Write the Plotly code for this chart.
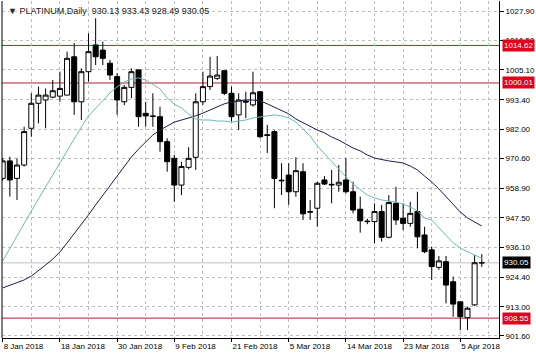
import plotly.graph_objects as go

# ---- data ----
bar_index = list(range(68))
opens = [962.9, 969.7, 962.9, 968.1, 982.4, 992.1, 993.4, 994.5, 994.9, 995.3,
         1010.2, 992.7, 1004.4, 1014.8, 1012.8, 1007.7, 1002.5, 992.7, 998.3, 1005.1,
         988.2, 987.2, 986.9, 977.2, 970.7, 960.3, 967.2, 971.1, 992.7, 998.6,
         1001.8, 1004.8, 996.0, 987.6, 993.0, 991.5, 996.6, 979.9, 981.1, 962.2,
         964.2, 957.7, 965.5, 950.0, 951.3, 962.3, 960.6, 960.3, 962.3, 957.7,
         950.9, 946.3, 946.1, 950.0, 940.0, 953.2, 947.4, 945.4, 950.0, 940.9,
         935.1, 928.3, 930.5, 922.7, 914.9, 908.7, 913.7, 930.13]
highs = [970.8, 971.3, 970.7, 983.0, 996.0, 998.6, 997.9, 1001.2, 1004.4, 1012.2,
         1015.5, 1005.7, 1019.3, 1025.2, 1016.1, 1009.0, 1003.8, 999.2, 1005.7, 1005.4,
         992.7, 996.0, 990.8, 978.5, 972.0, 969.4, 975.0, 996.0, 1004.4, 1010.2,
         1010.5, 1004.8, 998.6, 996.0, 996.6, 1004.4, 996.6, 983.7, 981.7, 968.8,
         968.8, 971.1, 968.8, 954.5, 961.6, 963.8, 966.2, 968.1, 970.7, 961.6,
         955.8, 947.2, 953.2, 952.6, 956.4, 959.7, 953.2, 953.8, 957.7, 944.1,
         936.4, 932.7, 932.7, 924.7, 914.9, 913.0, 933.1, 933.43]
lows = [962.0, 955.8, 954.5, 967.5, 979.1, 984.3, 982.4, 994.1, 992.7, 995.3,
        987.6, 985.6, 1000.5, 1007.0, 1007.0, 1001.2, 987.6, 991.4, 994.1, 983.0,
        983.0, 983.0, 973.3, 965.5, 953.8, 956.4, 966.4, 966.2, 991.5, 997.3,
        1001.2, 995.3, 985.0, 981.7, 986.3, 990.8, 978.5, 972.7, 951.3, 956.4,
        952.6, 955.8, 946.7, 946.7, 944.1, 960.3, 953.2, 957.7, 957.1, 949.3,
        941.8, 945.1, 937.7, 938.3, 939.6, 944.8, 942.8, 944.1, 935.7, 933.8,
        923.4, 927.3, 914.3, 909.1, 903.9, 903.9, 913.3, 928.49]
closes = [969.7, 962.3, 968.1, 981.1, 992.1, 995.3, 995.3, 997.0, 997.9, 1009.6,
          992.7, 1004.4, 1012.2, 1010.2, 1009.6, 1003.1, 993.4, 998.3, 1004.4, 986.9,
          987.2, 987.0, 977.2, 969.4, 960.3, 967.5, 970.7, 992.7, 998.6, 1002.7,
          1003.1, 996.0, 986.9, 993.4, 992.6, 996.2, 979.1, 979.6, 962.9, 962.0,
          957.7, 965.9, 949.1, 949.8, 961.0, 960.7, 960.4, 961.4, 957.7, 950.6,
          946.4, 946.1, 950.0, 940.0, 953.5, 946.7, 945.4, 949.3, 940.2, 934.4,
          928.6, 930.8, 921.4, 914.0, 909.1, 912.4, 930.1, 930.05]

ma_fast = [930.8, 935.8, 940.5, 945.6, 950.2, 954.9, 959.6, 964.2, 968.9, 973.9,
           978.6, 982.9, 987.2, 990.3, 993.4, 996.1, 998.5, 1000.4, 1001.6, 1002.0,
           1001.2, 999.6, 997.7, 994.2, 991.8, 990.3, 987.9, 986.0, 985.6, 985.6,
           985.2, 985.2, 984.8, 985.2, 985.6, 986.4, 986.8, 987.2, 987.6, 987.2,
           986.4, 984.8, 982.1, 979.4, 975.5, 972.4, 969.3, 966.2, 963.5, 960.7,
           958.4, 956.4, 955.3, 954.5, 954.1, 953.7, 952.9, 951.8, 950.2, 947.5,
           946.7, 943.6, 940.9, 937.8, 935.8, 934.3, 933.1, 931.9]
ma_slow = [920.3, 921.4, 922.2, 923.4, 924.9, 926.9, 929.2, 931.5, 934.3, 937.8,
           941.3, 944.8, 948.7, 952.6, 956.1, 960.0, 963.8, 967.7, 971.2, 974.3,
           977.1, 979.8, 981.7, 983.3, 984.8, 985.6, 986.4, 987.2, 988.3, 989.5,
           990.7, 991.9, 992.6, 993.0, 993.4, 993.4, 993.0, 991.9, 990.7, 989.5,
           988.0, 986.0, 984.5, 982.9, 981.7, 980.6, 979.0, 977.8, 976.3, 974.7,
           973.6, 972.0, 970.8, 970.1, 969.7, 969.3, 968.9, 967.7, 966.2, 963.8,
           961.5, 958.8, 955.7, 952.6, 949.8, 947.5, 945.9, 944.4]

date_tick_pos = [0, 8, 16, 24, 32, 40, 48, 56, 64]
date_tick_text = ["8 Jan 2018", "18 Jan 2018", "30 Jan 2018", "9 Feb 2018", "21 Feb 2018",
                  "5 Mar 2018", "14 Mar 2018", "23 Mar 2018", "5 Apr 2018"]
minor_grid_pos = [4, 12, 20, 28, 36, 44, 52, 60, 68]
price_ticks = [1027.90, 1016.50, 1005.10, 993.40, 982.00, 970.60, 958.90,
               947.50, 936.10, 924.40, 913.00, 901.60]
red_levels = [1014.62, 1000.01, 908.55]
last_price = 930.05
title_text = "\u25bc PLATINUM,Daily\u00a0\u00a0930.13 933.43 928.49 930.05"

FONT = "Liberation Sans, Arial, sans-serif"
GRID = "#bdbdbd"
RED = "#b3202c"

fig = go.Figure()
fig.add_trace(go.Scatter(x=bar_index, y=ma_slow, mode="lines",
                         line=dict(color="#1e1e4a", width=1), hoverinfo="skip"))
fig.add_trace(go.Scatter(x=bar_index, y=ma_fast, mode="lines",
                         line=dict(color="#72b8b8", width=1), hoverinfo="skip"))
fig.add_trace(go.Candlestick(
    x=bar_index, open=opens, high=highs, low=lows, close=closes,
    increasing=dict(line=dict(color="#000000", width=1), fillcolor="#ffffff"),
    decreasing=dict(line=dict(color="#000000", width=1), fillcolor="#000000"),
    whiskerwidth=0))

shapes = []
for lv in red_levels:
    shapes.append(dict(type="line", xref="paper", x0=0, x1=1, yref="y", y0=lv, y1=lv,
                       line=dict(color=RED, width=1), layer="below"))
shapes.append(dict(type="line", xref="paper", x0=0, x1=1, yref="y", y0=last_price, y1=last_price,
                   line=dict(color="#c0c0c0", width=1), layer="below"))
shapes.append(dict(type="line", xref="paper", x0=0, x1=0, yref="paper", y0=0, y1=1,
                   line=dict(color="#000000", width=1)))

annotations = [dict(xref="paper", yref="paper", x=0, y=1, xanchor="left", yanchor="top",
                    xshift=4, yshift=-3, text=title_text, showarrow=False,
                    font=dict(family=FONT, size=9, color="#222222"))]
for lv in red_levels:
    annotations.append(dict(xref="paper", yref="y", x=1, y=lv, xanchor="left", yanchor="middle",
                            xshift=3, text=f"{lv:.2f}", showarrow=False, bgcolor="#e3001b",
                            borderpad=1, font=dict(family=FONT, size=8, color="#ffffff")))
annotations.append(dict(xref="paper", yref="y", x=1, y=last_price, xanchor="left", yanchor="middle",
                        xshift=3, text=f"{last_price:.2f}", showarrow=False, bgcolor="#000000",
                        borderpad=1, font=dict(family=FONT, size=8, color="#ffffff")))

fig.update_layout(
    width=536, height=357,
    margin=dict(l=2, r=37, t=1, b=19),
    paper_bgcolor="#ffffff", plot_bgcolor="#ffffff",
    showlegend=False,
    boxgap=0.3, boxgroupgap=0,
    font=dict(family=FONT, size=8, color="#000000"),
    shapes=shapes, annotations=annotations,
    xaxis=dict(range=[-0.098, 69.41], rangeslider=dict(visible=False),
               tickmode="array", tickvals=date_tick_pos, ticktext=date_tick_text,
               ticks="outside", ticklen=3, tickcolor="#000000",
               ticklabelposition="outside right",
               showgrid=True, gridcolor=GRID, griddash="3px,3px", gridwidth=1,
               minor=dict(tickvals=minor_grid_pos, showgrid=True, gridcolor=GRID,
                          griddash="3px,3px", ticks=""),
               showline=True, linecolor="#000000", linewidth=1, zeroline=False,
               tickfont=dict(family=FONT, size=8)),
    yaxis=dict(side="right", range=[900.82, 1031.9], tickmode="array",
               tickvals=price_ticks, ticktext=[f"{v:.2f}" for v in price_ticks],
               ticks="outside", ticklen=4, tickcolor="#000000",
               showgrid=True, gridcolor=GRID, griddash="3px,3px", gridwidth=1,
               showline=True, linecolor="#000000", linewidth=1, zeroline=False,
               tickfont=dict(family=FONT, size=8)),
)

fig.write_html(
    "out.html",
    config={"displayModeBar": False},
    post_script="document.body.style.margin='0';document.body.style.padding='0';",
)
